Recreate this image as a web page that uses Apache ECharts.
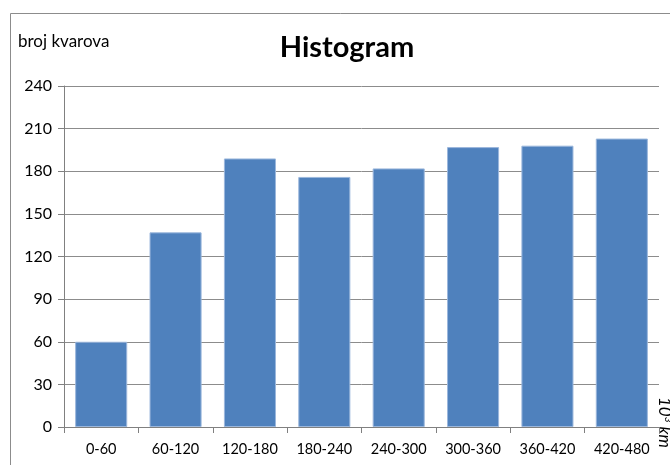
<!DOCTYPE html>
<html><head><meta charset="utf-8">
<script src="https://cdn.jsdelivr.net/npm/echarts@6/dist/echarts.min.js"></script>
<style>html,body{margin:0;padding:0;background:#fff}#c{width:670px;height:465px}</style>
</head><body><div id="c"></div>
<script>
const categories = ['0-60','60-120','120-180','180-240','240-300','300-360','360-420','420-480'];
const values = [60, 137, 189, 176, 182, 197, 198, 203];
const yTicks = {min: 0, max: 240, interval: 30};
const FONT = 'Lato';
const chart = echarts.init(document.getElementById('c'), null, {renderer: 'canvas'});
chart.setOption({
  backgroundColor: '#fff',
  animation: false,
  title: {
    text: 'Histogram', left: 342, top: 28, textAlign: 'center',
    textStyle: {fontFamily: FONT, fontSize: 29, fontWeight: 'bold', color: '#000'}
  },
  graphic: [
    {type: 'rect', shape: {x: 10.5, y: 13.5, width: 700, height: 500}, style: {fill: 'none', stroke: '#8c8c8c', lineWidth: 1}, silent: true, z: -1},
    {type: 'text', left: 18, top: 33, style: {text: 'broj kvarova', font: '17px ' + FONT, fill: '#000'}},
    {type: 'text', x: 673, y: 397, rotation: -Math.PI / 2,
     style: {text: '10{s|3} km', fill: '#000', font: 'italic 17px ' + FONT, verticalAlign: 'top',
       rich: {s: {fontSize: 10, fontStyle: 'italic', fontFamily: FONT, verticalAlign: 'top', padding: [0,0,6,0]}}}}
  ],
  grid: {left: 64, right: 11, top: 86, bottom: 38, containLabel: false},
  xAxis: {
    type: 'category', data: categories,
    axisLine: {lineStyle: {color: '#808080'}},
    axisTick: {show: true, alignWithLabel: false, length: 6, lineStyle: {color: '#808080'}},
    axisLabel: {fontFamily: FONT, fontSize: 14.5, color: '#000', margin: 15, interval: 0}
  },
  yAxis: {
    type: 'value', min: yTicks.min, max: yTicks.max, interval: yTicks.interval,
    axisLine: {show: true, lineStyle: {color: '#808080'}},
    axisTick: {show: true, length: 6, lineStyle: {color: '#808080'}},
    axisLabel: {fontFamily: FONT, fontSize: 16, color: '#000', margin: 12},
    splitLine: {lineStyle: {color: '#8c8c8c', width: 1}}
  },
  series: [{
    type: 'bar', data: values, barCategoryGap: '30%',
    itemStyle: {color: '#4f81bd', borderColor: '#9bb7dc', borderWidth: 1}
  }]
});
</script></body></html>
